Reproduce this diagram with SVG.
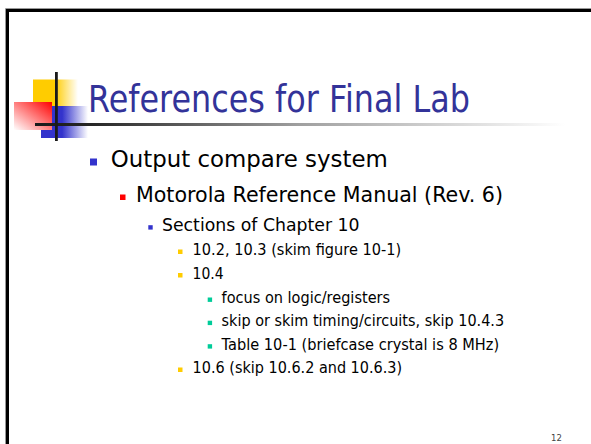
<svg xmlns="http://www.w3.org/2000/svg" width="591" height="444" viewBox="0 0 591 444">
  <defs>
    <linearGradient id="gYellow" x1="0" y1="0" x2="1" y2="0">
      <stop offset="0" stop-color="#FFCC00"/>
      <stop offset="0.48" stop-color="#FFCC00"/>
      <stop offset="1" stop-color="#FFCC00" stop-opacity="0"/>
    </linearGradient>
    <linearGradient id="gBlue" x1="0" y1="0" x2="1" y2="0">
      <stop offset="0" stop-color="#3333CC"/>
      <stop offset="0.45" stop-color="#3333CC"/>
      <stop offset="1" stop-color="#3333CC" stop-opacity="0"/>
    </linearGradient>
    <linearGradient id="gRed" x1="1" y1="0" x2="0" y2="1">
      <stop offset="0" stop-color="#FF0000"/>
      <stop offset="1" stop-color="#FFFFFF"/>
    </linearGradient>
    <linearGradient id="gRule" x1="35" y1="0" x2="565" y2="0" gradientUnits="userSpaceOnUse">
      <stop offset="0" stop-color="#1a1a1a"/>
      <stop offset="0.105" stop-color="#262626"/>
      <stop offset="0.5" stop-color="#a0a0a0"/>
      <stop offset="1" stop-color="#ffffff"/>
    </linearGradient>
  </defs>
  <style>
    .body { font-family: "DejaVu Sans", "Liberation Sans", sans-serif; fill: #000; }
    .l1 { font-size: 23.8px; }
    .l2 { font-size: 20.6px; }
    .l3 { font-size: 18.3px; }
    .l4 { font-size: 16.5px; }
    .title { font-family: "DejaVu Sans", "Liberation Sans", sans-serif; font-size: 36.5px; fill: #333399; }
    .bBlue { fill: #3333CC; }
    .bRed { fill: #FF0000; }
    .bYellow { fill: #FFCC00; }
    .bGreen { fill: #00CC99; }
  </style>
  <rect width="591" height="444" fill="#ffffff"/>
  <g id="border" fill="none">
    <path d="M5.5 444 V8.5 H591" stroke="#999999" stroke-width="1"/>
    <path d="M7.5 444 V10.5 H591" stroke="#000000" stroke-width="3"/>
  </g>
  <g id="logo">
    <rect x="33" y="79.5" width="45" height="27" fill="url(#gYellow)"/>
    <rect x="41" y="106" width="47" height="32" fill="url(#gBlue)"/>
    <rect x="14" y="102" width="38" height="28" fill="url(#gRed)"/>
    <rect x="35" y="123" width="530" height="3" fill="url(#gRule)"/>
    <rect x="55" y="72" width="2.8" height="69" fill="#1a1a1a"/>
  </g>
  <g id="title">
    <text class="title" x="88" y="112" textLength="382" lengthAdjust="spacingAndGlyphs">References for Final Lab</text>
  </g>
  <g id="item1">
    <rect class="bBlue" x="90" y="158.5" width="7" height="7"/>
    <text class="body l1" x="110.8" y="166.7" textLength="277" lengthAdjust="spacingAndGlyphs">Output compare system</text>
  </g>
  <g id="item2">
    <rect class="bRed" x="120" y="194.5" width="5.5" height="5.5"/>
    <text class="body l2" x="136" y="201.7" textLength="367" lengthAdjust="spacingAndGlyphs">Motorola Reference Manual (Rev. 6)</text>
  </g>
  <g id="item3">
    <rect class="bBlue" x="148.3" y="225.2" width="4.4" height="4.4"/>
    <text class="body l3" x="162" y="230.7" textLength="197.5" lengthAdjust="spacingAndGlyphs">Sections of Chapter 10</text>
  </g>
  <g id="item4">
    <rect class="bYellow" x="178" y="249.5" width="4.5" height="4.5"/>
    <text class="body l4" x="192.6" y="255" textLength="208.5" lengthAdjust="spacingAndGlyphs">10.2, 10.3 (skim figure 10-1)</text>
  </g>
  <g id="item5">
    <rect class="bYellow" x="178" y="273" width="4.5" height="4.5"/>
    <text class="body l4" x="192.6" y="279.3" textLength="31" lengthAdjust="spacingAndGlyphs">10.4</text>
  </g>
  <g id="item6">
    <rect class="bGreen" x="207.7" y="297.5" width="4.4" height="4.4"/>
    <text class="body l4" x="221.6" y="302.8" textLength="168.5" lengthAdjust="spacingAndGlyphs">focus on logic/registers</text>
  </g>
  <g id="item7">
    <rect class="bGreen" x="207.7" y="320.7" width="4.4" height="4.4"/>
    <text class="body l4" x="221.6" y="326" textLength="282.5" lengthAdjust="spacingAndGlyphs">skip or skim timing/circuits, skip 10.4.3</text>
  </g>
  <g id="item8">
    <rect class="bGreen" x="207.7" y="344.2" width="4.4" height="4.4"/>
    <text class="body l4" x="221.6" y="349.5" textLength="277.5" lengthAdjust="spacingAndGlyphs">Table 10-1 (briefcase crystal is 8 MHz)</text>
  </g>
  <g id="item9">
    <rect class="bYellow" x="178" y="367.5" width="4.5" height="4.5"/>
    <text class="body l4" x="192.6" y="373" textLength="209.5" lengthAdjust="spacingAndGlyphs">10.6 (skip 10.6.2 and 10.6.3)</text>
  </g>
  <g id="pagenum">
    <text x="551" y="441" style="font-family: 'DejaVu Sans', 'Liberation Sans', sans-serif; font-size: 8.5px; fill: #444;">12</text>
  </g>
</svg>
